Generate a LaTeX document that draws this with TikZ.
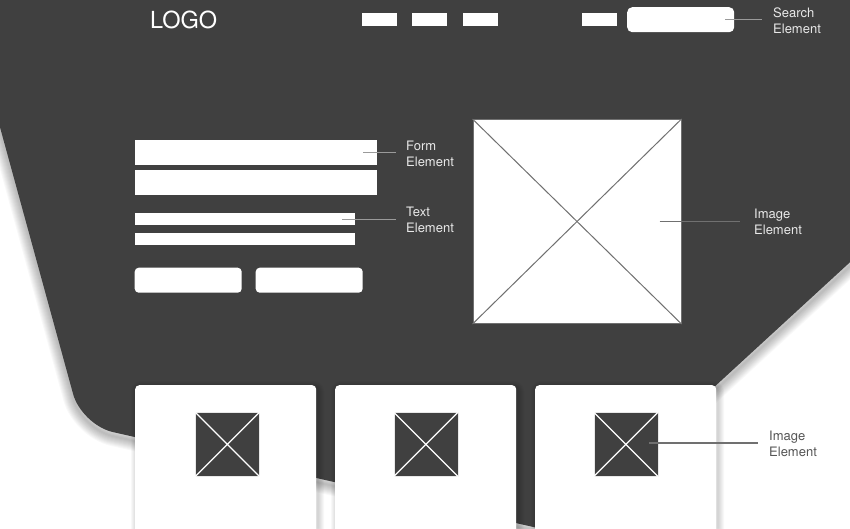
\documentclass[tikz,border=0pt]{standalone}
\usepackage{fontspec}
\setmainfont{TeX Gyre Heros}
\definecolor{wfdark}{HTML}{404040}
\definecolor{wfline}{HTML}{9A9A9A}
\definecolor{wfcross}{HTML}{707070}
\definecolor{wflight}{HTML}{E8E8E8}
\definecolor{wfgrey}{HTML}{555555}

\begin{document}
\begin{tikzpicture}[x=1pt,y=-1pt,
  box/.style={fill=white,inner sep=0pt,anchor=north west},
  lbl/.style={anchor=west,align=left,inner sep=0pt,text=wflight,font=\fontsize{13}{16}\selectfont},
  pointer/.style={draw=wfline,line width=1.3pt},
  haze/.style={draw=black,opacity=0.028,line width=#1,line join=round}]
\useasboundingbox (0,0) rectangle (850,528);
\fill[white] (0,0) rectangle (850,528);
% dark backdrop with soft shadow
\begin{scope}
\clip (0,0) rectangle (850,528);
\foreach \w in {2,4,...,20}
  \draw[haze=\w pt,yshift=-4pt] (-10,-10) -- (860,-10) -- (860,253) -- (712,389) -- (560,533)
    [rounded corners=32pt] -- (81.6,425) [sharp corners] -- (-5,109) -- cycle;
\fill[wfdark] (-10,-10) -- (860,-10) -- (860,253) -- (712,389) -- (560,533)
  [rounded corners=32pt] -- (81.6,425) [sharp corners] -- (-5,109) -- cycle;
\end{scope}
% header
\node[anchor=base west,inner sep=0pt,text=white,font=\fontsize{23.5}{24}\selectfont] (logo) at (150,28) {LOGO};
\node[box,minimum width=35pt,minimum height=12.5pt] (nav1) at (362,13) {};
\node[box,minimum width=35pt,minimum height=12.5pt] (nav2) at (412,13) {};
\node[box,minimum width=35pt,minimum height=12.5pt] (nav3) at (463,13) {};
\node[box,minimum width=35pt,minimum height=12.5pt] (nav4) at (582,13) {};
\node[box,rounded corners=5pt,minimum width=107pt,minimum height=25pt] (search) at (627,7) {};
\node[lbl] (searchlbl) at (773,20.5) {Search\\Element};
\draw[pointer] ([xshift=-9pt]search.east) -- ([xshift=-11pt]search.east -| searchlbl.west);
% form and text
\node[box,minimum width=242pt,minimum height=25pt] (form1) at (135,140) {};
\node[box,minimum width=242pt,minimum height=25pt] (form2) at (135,170) {};
\node[lbl] (formlbl) at (406,153.5) {Form\\Element};
\draw[pointer] ([xshift=-14pt]form1.east) -- ([xshift=-10pt]form1.east -| formlbl.west);
\node[box,minimum width=220pt,minimum height=12pt] (text1) at (135,212.5) {};
\node[box,minimum width=220pt,minimum height=12pt] (text2) at (135,233) {};
\node[lbl] (textlbl) at (406,219.5) {Text\\Element};
\draw[pointer] ([xshift=-13pt,yshift=-0.5pt]text1.east) -- ([xshift=-10pt,yshift=-0.5pt]text1.east -| textlbl.west);
\node[box,rounded corners=4pt,minimum width=107pt,minimum height=25pt] (btn1) at (134.5,267.5) {};
\node[box,rounded corners=4pt,minimum width=107pt,minimum height=25pt] (btn2) at (255.5,267.5) {};
% hero image
\node[box,draw=wfcross,line width=1pt,minimum width=208pt,minimum height=204pt] (hero) at (472.5,119) {};
\draw[wfcross,line width=1pt] (hero.north west) -- (hero.south east);
\draw[wfcross,line width=1pt] (hero.north east) -- (hero.south west);
\node[lbl] (herolbl) at (754,222) {Image\\Element};
\draw[pointer,draw=wfcross] ([xshift=-22pt]hero.east) -- ([xshift=-14pt]hero.east -| herolbl.west);
% cards
\foreach \cx in {135,335,535}
  \foreach \w in {2,4,...,12}
    \draw[haze=\w pt,rounded corners=4pt] (\cx+2,387) rectangle (\cx+183,545);
\node[box,rounded corners=4pt,minimum width=181pt,minimum height=160pt] (card1) at (135,385) {};
\node[box,rounded corners=4pt,minimum width=181pt,minimum height=160pt] (card2) at (335,385) {};
\node[box,rounded corners=4pt,minimum width=181pt,minimum height=160pt] (card3) at (535,385) {};
\node[box,fill=wfdark,draw=wflight,line width=0.8pt,minimum size=64pt] (thumb1) at (195,412) {};
\node[box,fill=wfdark,draw=wflight,line width=0.8pt,minimum size=64pt] (thumb2) at (393.5,412) {};
\node[box,fill=wfdark,draw=wflight,line width=0.8pt,minimum size=64pt] (thumb3) at (593.5,412) {};
\draw[white,line width=1.3pt] (thumb1.north west) -- (thumb1.south east) (thumb1.north east) -- (thumb1.south west);
\draw[white,line width=1.3pt] (thumb2.north west) -- (thumb2.south east) (thumb2.north east) -- (thumb2.south west);
\draw[white,line width=1.3pt] (thumb3.north west) -- (thumb3.south east) (thumb3.north east) -- (thumb3.south west);
\node[lbl,text=wfgrey] (thumblbl) at (769,444) {Image\\Element};
\draw[pointer,draw=wfcross] ([xshift=-9pt,yshift=1.5pt]thumb3.east) -- ([xshift=-11pt,yshift=1.5pt]thumb3.east -| thumblbl.west);
\end{tikzpicture}
\end{document}
